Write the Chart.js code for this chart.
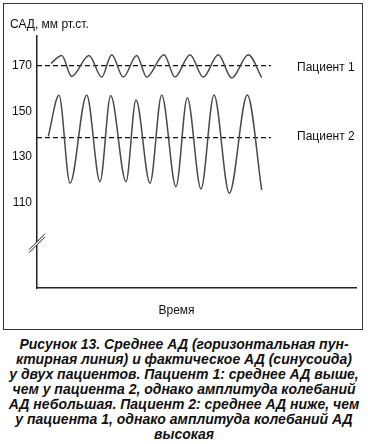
<!DOCTYPE html>
<html>
<head>
<meta charset="utf-8">
<script src="https://cdn.jsdelivr.net/npm/chart.js@4"></script>
<style>
	body { margin: 0; background: #fff; width: 368px; height: 444px; overflow: hidden; }
	#box { position: absolute; left: 3px; top: 3px; width: 358px; height: 325px; border: 1px solid #333; }
	#caption {
		position: absolute; left: 0; top: 337px; width: 368px; text-align: center;
		font: italic bold 14px/15px "Liberation Sans", Arial, sans-serif; color: #111;
	}
</style>
</head>
<body>
<div id="box"><canvas id="chart" width="358" height="325"></canvas></div>
<div id="caption">
	Рисунок 13. Среднее АД (горизонтальная пун-<br>
	ктирная линия) и фактическое АД (синусоида)<br>
	у двух пациентов. Пациент 1: среднее АД выше,<br>
	чем у пациента 2, однако амплитуда колебаний<br>
	АД небольшая. Пациент 2: среднее АД ниже, чем<br>
	у пациента 1, однако амплитуда колебаний АД<br>
	высокая
</div>
<script>
const FONT = "'Liberation Sans', Arial, sans-serif";

// time (arbitrary units) and pressure: start, peaks/troughs, end
const patient1Time = [14, 24.7, 34.7, 52, 64.7, 74.7, 86.3, 99.7, 109.7, 127, 138, 153, 166.3, 181.3, 194.7, 211.3, 224.7];
const patient1Value = [171, 174.5, 165.3, 174.5, 165, 174.8, 165, 174.5, 165, 174.8, 165, 174.8, 165, 174.8, 164.6, 174.8, 164.8];
const patient2Time = [11.3, 22, 33, 49.7, 63, 73.7, 89, 99, 113, 124.7, 139, 150.3, 164, 177, 192.3, 210.3, 224.7];
const patient2Value = [139, 157, 118.5, 157.2, 119.2, 156.9, 119.2, 155, 118.5, 157.2, 117, 156, 116, 157.2, 114.1, 157.2, 115.6];

const meanValues = [170, 138.5];
const meanRange = [0, 234];
const seriesLabels = ["Пациент 1", "Пациент 2"];
const yTicks = [110, 130, 150, 170];
const yTitle = "САД, мм рт.ст.";
const xTitle = "Время";
const axisBreakAt = 92;

function toPoints(times, values) {
	return times.map((t, i) => ({ x: t, y: values[i] }));
}

function meanLine(value) {
	return meanRange.map((t) => ({ x: t, y: value }));
}

const sineStyle = {
	borderColor: "#4a4a4a",
	borderWidth: 1.5,
	pointRadius: 0,
	cubicInterpolationMode: "monotone",
	fill: false,
};

const dashStyle = {
	borderColor: "#111",
	borderWidth: 1.2,
	borderDash: [5, 3],
	pointRadius: 0,
	fill: false,
};

const labelsPlugin = {
	id: "labels",
	afterDraw(chart) {
		const { ctx, scales } = chart;
		const x = scales.x;
		const y = scales.y;
		ctx.save();
		ctx.fillStyle = "#111";
		ctx.font = "12px " + FONT;
		ctx.textBaseline = "middle";

		ctx.textAlign = "left";
		ctx.fillText(yTitle, 6, 21);
		seriesLabels.forEach((label, i) => {
			ctx.fillText(label, x.getPixelForValue(meanRange[1]) + 26, y.getPixelForValue(meanValues[i]) + (i === 0 ? 2 : -1));
		});

		ctx.textAlign = "center";
		ctx.fillText(xTitle, 172.5, 307);

		// axis break mark
		const bx = x.left;
		const by = y.getPixelForValue(axisBreakAt);
		ctx.beginPath();
		ctx.moveTo(bx - 8, by + 6);
		ctx.lineTo(bx + 8, by - 10);
		ctx.lineTo(bx + 8, by - 7);
		ctx.lineTo(bx - 8, by + 9);
		ctx.closePath();
		ctx.fillStyle = "#fff";
		ctx.fill();
		ctx.strokeStyle = "#222";
		ctx.lineWidth = 1;
		ctx.beginPath();
		ctx.moveTo(bx - 8, by + 6);
		ctx.lineTo(bx + 8, by - 10);
		ctx.moveTo(bx - 8, by + 9);
		ctx.lineTo(bx + 8, by - 7);
		ctx.stroke();
		ctx.restore();
	},
};

new Chart(document.getElementById("chart"), {
	type: "line",
	data: {
		datasets: [
			{ label: seriesLabels[0], data: toPoints(patient1Time, patient1Value), ...sineStyle },
			{ label: seriesLabels[1], data: toPoints(patient2Time, patient2Value), ...sineStyle },
			{ label: "mean 1", data: meanLine(meanValues[0]), ...dashStyle },
			{ label: "mean 2", data: meanLine(meanValues[1]), ...dashStyle },
		],
	},
	options: {
		responsive: false,
		animation: false,
		layout: { padding: { top: 32, right: 6, left: 0, bottom: 0 } },
		plugins: { legend: { display: false }, tooltip: { enabled: false } },
		scales: {
			x: {
				type: "linear",
				min: 0,
				max: 319,
				ticks: { display: false },
				grid: { display: false, drawTicks: false },
				border: { color: "#222", width: 1.5 },
				afterFit(scale) { scale.height = 41; },
			},
			y: {
				min: 72.6,
				max: 183,
				afterBuildTicks(scale) { scale.ticks = yTicks.map((v) => ({ value: v })); },
				ticks: { padding: 5, color: "#111", font: { family: FONT, size: 12 } },
				grid: { display: false, drawTicks: false },
				border: { color: "#222", width: 1.5 },
				afterFit(scale) { scale.width = 33; },
			},
		},
	},
	plugins: [labelsPlugin],
});
</script>
</body>
</html>
